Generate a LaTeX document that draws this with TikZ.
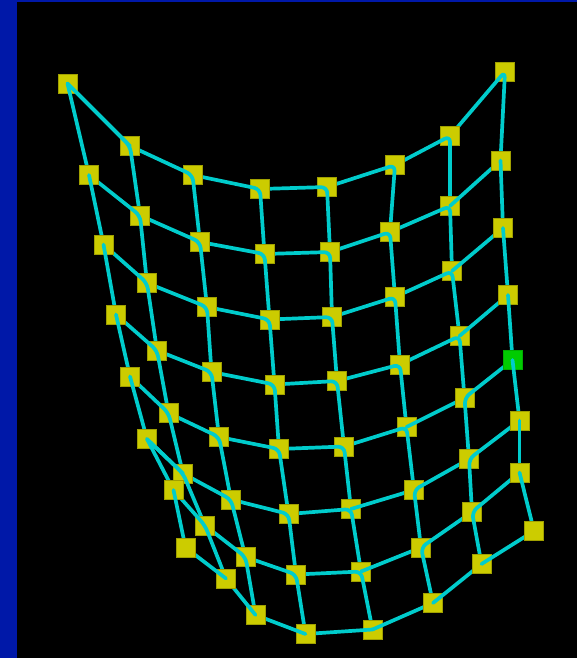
\documentclass[tikz,border=0pt]{standalone}
\definecolor{bandblue}{RGB}{0,24,168}
\definecolor{sqyellow}{RGB}{204,204,0}
\definecolor{sqedge}{RGB}{160,160,0}
\definecolor{sqgreen}{RGB}{0,204,0}
\definecolor{meshcyan}{RGB}{0,204,204}
\tikzset{
  sqbox/.style={draw=sqedge,line width=0.6pt,fill=sqyellow,minimum size=19pt,inner sep=0pt,outer sep=0pt,rectangle},
  meshline/.style={draw=meshcyan,line width=3.7pt,line join=round,line cap=round},
  meshbend/.style={meshline,rounded corners=6pt}
}
\newcommand\msq[2]{%
  \ifnum#1=4 \ifnum#2=7 \node[sqbox,fill=sqgreen,draw=sqgreen!85!black] (n-#1-#2) at (c-#1-#2) {};\else \node[sqbox] (n-#1-#2) at (c-#1-#2) {};\fi
  \else \node[sqbox] (n-#1-#2) at (c-#1-#2) {};\fi}
% path from neighbour #3 through node #2 in row #1, then down to next row
\newcommand\mpath[3]{%
  \pgfmathtruncatemacro\nxr{#1+1}%
  \ifnum#1<7 \draw[meshbend] (c-#1-#3) -- (c-#1-#2) -- (c-\nxr-#2);%
  \else \draw[meshbend] (c-#1-#3) -- (c-#1-#2);\fi}
\newcommand\mdown[2]{%
  \pgfmathtruncatemacro\nxr{#1+1}%
  \ifnum#1<7 \draw[meshline] (c-#1-#2) -- (c-\nxr-#2);\fi}
\begin{document}
\begin{tikzpicture}[x=1pt,y=-1pt]
\useasboundingbox (0,0) rectangle (577,658);
\fill[bandblue] (0,0) rectangle (577,658);
\fill[black] (17,2) rectangle (577,658);
\foreach \r/\j/\x/\y in {
 0/0/67.5/83.5,0/1/130/146,0/2/192.5/175,0/3/260/189,0/4/327/187,0/5/395/165,0/6/450/136,0/7/505/71.5,
 1/0/89/175,1/1/140/215.5,1/2/200/242,1/3/264.5/254,1/4/330/252,1/5/390/232,1/6/450/206,1/7/500.5/160.5,
 2/0/103.5/244.5,2/1/147/283,2/2/207/307,2/3/269.5/319.5,2/4/332/317,2/5/395/297,2/6/452/271,2/7/503/228,
 3/0/116/314.5,3/1/157/350.5,3/2/211.5/372,3/3/274.5/384.5,3/4/337/381,3/5/400/364.5,3/6/459.5/336,3/7/508/295,
 4/0/130/376.5,4/1/168.5/413,4/2/219/437,4/3/279/449,4/4/344/446.5,4/5/406.5/427,4/6/464.5/398,4/7/512.5/360,
 5/0/147/439,5/1/183/473.5,5/2/231/499.5,5/3/288.5/514,5/4/351/509,5/5/414/490,5/6/469/459,5/7/519.5/420.5,
 6/0/173.5/490,6/1/205/525.5,6/2/245.5/557,6/3/296/574.5,6/4/361/571.5,6/5/421/547.5,6/6/472/512,6/7/519.5/472.5,
 7/0/185.5/547.5,7/1/226/578.5,7/2/255.5/615,7/3/305.5/634,7/4/372.5/629.5,7/5/433/603,7/6/481.5/564,7/7/534/531}
 {\coordinate (c-\r-\j) at (\x,\y);}
\foreach \r/\p in {0/7,1/6,2/6,3/6,4/5,5/4,6/4,7/4}{
  \msq{\r}{\p}
  \ifnum\p>0
    \pgfmathtruncatemacro\pmn{\p-1}
    \mpath{\r}{\p}{\pmn}
  \fi
  \ifnum\p<7
    \pgfmathtruncatemacro\ppl{\p+1}
    \draw[meshline] (c-\r-\p) -- (c-\r-\ppl);
  \fi
  \foreach \j in {1,...,7}{
    \ifnum\j>\p
      \msq{\r}{\j}
      \ifnum\j<7
        \pgfmathtruncatemacro\jp{\j+1}
        \mpath{\r}{\j}{\jp}
      \else
        \mdown{\r}{\j}
      \fi
    \fi
  }
  \foreach \j in {6,5,...,0}{
    \ifnum\j<\p
      \msq{\r}{\j}
      \ifnum\j>0
        \pgfmathtruncatemacro\jm{\j-1}
        \mpath{\r}{\j}{\jm}
      \else
        \mdown{\r}{\j}
      \fi
    \fi
  }
}
% two rows whose first link stays visible over the first square
\draw[meshline] (c-0-0) -- (c-0-1);
\draw[meshline] (c-5-0) -- (c-5-1);
\end{tikzpicture}
\end{document}
